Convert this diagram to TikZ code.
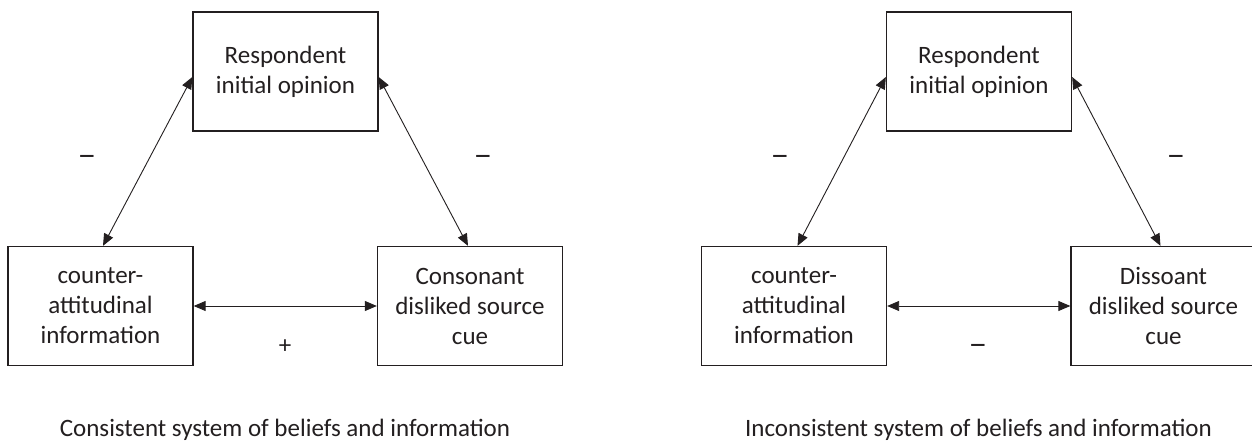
\documentclass[tikz,border=0pt]{standalone}
\usepackage{fontspec}
\setmainfont{Carlito}
\usetikzlibrary{arrows.meta,calc}
\definecolor{ink}{RGB}{35,31,32}
\tikzset{
  box/.style={draw=ink, line width=1.3pt, minimum width=185pt, minimum height=119pt, inner sep=0pt, align=center, text=ink, font=\fontsize{25}{30}\selectfont},
  link/.style={draw=ink, line width=0.9pt, {Triangle[length=12pt,width=10pt]}-{Triangle[length=12pt,width=10pt]}},
  sign/.style={text=ink, font=\fontsize{25}{30}\selectfont, inner sep=0pt},
  caption/.style={text=ink, font=\fontsize{25}{30}\selectfont, inner sep=0pt}
}
\newcommand{\minussign}{\scalebox{1.5}[1.3]{–}}
\begin{document}
\begin{tikzpicture}[x=1pt,y=-1pt]
\clip (0,0) rectangle (1252,446);
\fill[white] (0,0) rectangle (1252,446);
% left panel
\node[box] (T1) at (285.5,71.5) {Respondent\\initial opinion};
\node[box] (L1) at (100.5,306) {counter-\\attitudinal\\information};
\node[box] (R1) at (470,306) {Consonant\\disliked source\\cue};
\draw[link] ([xshift=2.5pt]L1.north) -- ([yshift=-5.5pt]T1.west);
\draw[link] ([yshift=-5.5pt]T1.east) -- ([xshift=-2pt]R1.north);
\draw[link] (L1.east) -- (R1.west);
\node[sign] (m1a) at (87,160) {\minussign};
\node[sign] (m1b) at (483,160) {\minussign};
\node[sign] (p1) at (285,347) {+};
\node[caption] (c1) at (285,430) {Consistent system of beliefs and information};
% right panel
\node[box] (T2) at (979,71.5) {Respondent\\initial opinion};
\node[box] (L2) at (794,306) {counter-\\attitudinal\\information};
\node[box] (R2) at (1163.5,306) {Dissoant\\disliked source\\cue};
\draw[link] ([xshift=3.5pt]L2.north) -- ([yshift=-5.5pt]T2.west);
\draw[link] ([yshift=-5.5pt]T2.east) -- ([xshift=-3pt]R2.north);
\draw[link] (L2.east) -- (R2.west);
\node[sign] (m2a) at (780,160) {\minussign};
\node[sign] (m2b) at (1176,160) {\minussign};
\node[sign] (m2c) at (978,349) {\minussign};
\node[caption] (c2) at (978.5,430) {Inconsistent system of beliefs and information};
\end{tikzpicture}
\end{document}
